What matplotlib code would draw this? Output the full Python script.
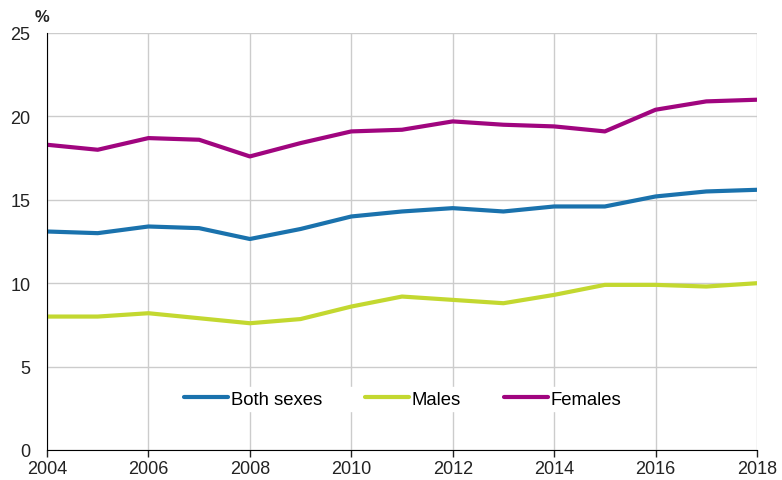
import matplotlib.pyplot as plt

plt.rcParams['font.family'] = ['Liberation Sans', 'DejaVu Sans']

years = list(range(2004, 2019))
both = [13.1, 13.0, 13.4, 13.3, 12.65, 13.25, 14.0, 14.3, 14.5, 14.3, 14.6, 14.6, 15.2, 15.5, 15.6]
males = [8.0, 8.0, 8.2, 7.9, 7.6, 7.85, 8.6, 9.2, 9.0, 8.8, 9.3, 9.9, 9.9, 9.8, 10.0]
females = [18.3, 18.0, 18.7, 18.6, 17.6, 18.4, 19.1, 19.2, 19.7, 19.5, 19.4, 19.1, 20.4, 20.9, 21.0]

fig = plt.figure(figsize=(7.82, 4.81), dpi=100)
ax = fig.add_axes([47/782, 30/481, 710/782, 417/481])

ax.plot(years, both, color='#1a72ad', linewidth=3, label='Both sexes', solid_capstyle='round')
ax.plot(years, males, color='#c3d830', linewidth=3, label='Males', solid_capstyle='round')
ax.plot(years, females, color='#a0057f', linewidth=3, label='Females', solid_capstyle='round')

ax.set_xlim(2004, 2018)
ax.set_ylim(0, 25)
ax.set_xticks(range(2004, 2019, 2))
ax.set_yticks(range(0, 26, 5))
ax.grid(True, color='#cccccc', linewidth=1)
ax.set_axisbelow(True)
for s in ['top', 'right']:
    ax.spines[s].set_visible(False)
ax.spines['left'].set_color('black')
ax.spines['bottom'].set_color('black')
ax.tick_params(axis='y', length=0, pad=12, labelsize=13, colors='#222222')
ax.tick_params(axis='x', length=5, width=1, pad=2, labelsize=13, colors='#222222')

leg = ax.legend(loc='center', bbox_to_anchor=(0.501, 0.122), ncol=3, frameon=True,
                fontsize=13.3, handlelength=2.4, handletextpad=0.15, columnspacing=2.3,
                borderpad=0.2, fancybox=False)
leg.get_frame().set_edgecolor('white')
leg.get_frame().set_facecolor('white')
leg.get_frame().set_alpha(1)

fig.text(42/782, 1 - 17/481, '%', fontsize=12, fontweight='bold', color='#222222',
         ha='center', va='center')

fig.savefig('out.png', dpi=100)
